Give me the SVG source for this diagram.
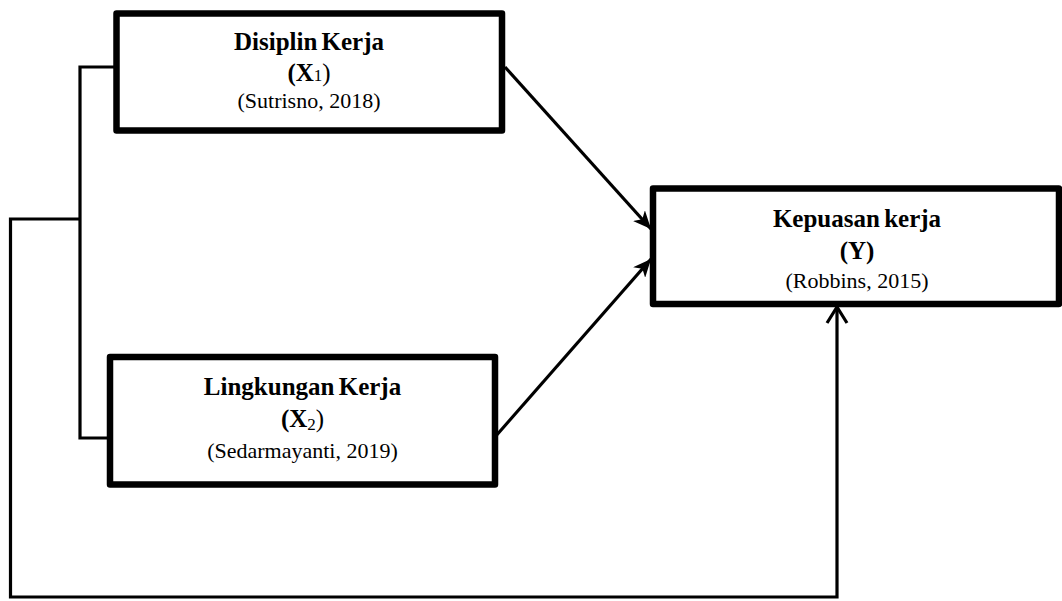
<svg xmlns="http://www.w3.org/2000/svg" width="1062" height="601" viewBox="0 0 1062 601">
<style>
.box{fill:#fff;stroke:#000;stroke-width:6.5;stroke-linejoin:round}
.ln{fill:none;stroke:#000;stroke-width:3.2}
.t{font-family:"Liberation Serif","Times New Roman",serif;font-size:25px;font-weight:bold;text-anchor:middle;word-spacing:-2px;fill:#000}
.s{font-family:"Liberation Serif","Times New Roman",serif;font-size:22px;text-anchor:middle;fill:#000}
</style>
<defs>
<marker id="fa" markerUnits="userSpaceOnUse" markerWidth="20" markerHeight="16" viewBox="0 0 20 16" refX="18" refY="8" orient="auto">
<path d="M0,0 L18,8 L0,16 L5,8 Z" fill="#000"/>
</marker>
<marker id="oa" markerUnits="userSpaceOnUse" markerWidth="22" markerHeight="26" viewBox="0 0 22 26" refX="18" refY="13" orient="auto">
<path d="M2,3 L18,13 L2,23" fill="none" stroke="#000" stroke-width="3.2"/>
</marker>
</defs>
<g id="connectors">
<polyline class="ln" points="116,67 80,67 80,438 110,438"/>
<polyline class="ln" points="80,219 10.5,219 10.5,597 837,597 837,307" marker-end="url(#oa)"/>
<line class="ln" x1="505" y1="67" x2="651" y2="229" marker-end="url(#fa)"/>
<line class="ln" x1="495" y1="437" x2="651" y2="259" marker-end="url(#fa)"/>
</g>
<g id="node-x1">
<rect class="box" x="116.5" y="13.5" width="385.5" height="117"/>
<text class="t" x="309" y="50">Disiplin Kerja</text>
<text class="t" x="309" y="81">(X<tspan font-weight="normal" font-size="17">1</tspan><tspan font-weight="normal">)</tspan></text>
<text class="s" x="309" y="108">(Sutrisno, 2018)</text>
</g>
<g id="node-x2">
<rect class="box" x="110" y="357" width="385" height="127.5"/>
<text class="t" x="302.5" y="395">Lingkungan Kerja</text>
<text class="t" x="302.5" y="427">(X<tspan font-weight="normal" font-size="17" dy="3">2</tspan><tspan font-weight="normal" dy="-3">)</tspan></text>
<text class="s" x="302.5" y="458">(Sedarmayanti, 2019)</text>
</g>
<g id="node-y">
<rect class="box" x="653" y="188.5" width="406" height="115.5"/>
<text class="t" x="857" y="227">Kepuasan kerja</text>
<text class="t" x="857" y="259">(Y)</text>
<text class="s" x="857" y="288">(Robbins, 2015)</text>
</g>
</svg>
